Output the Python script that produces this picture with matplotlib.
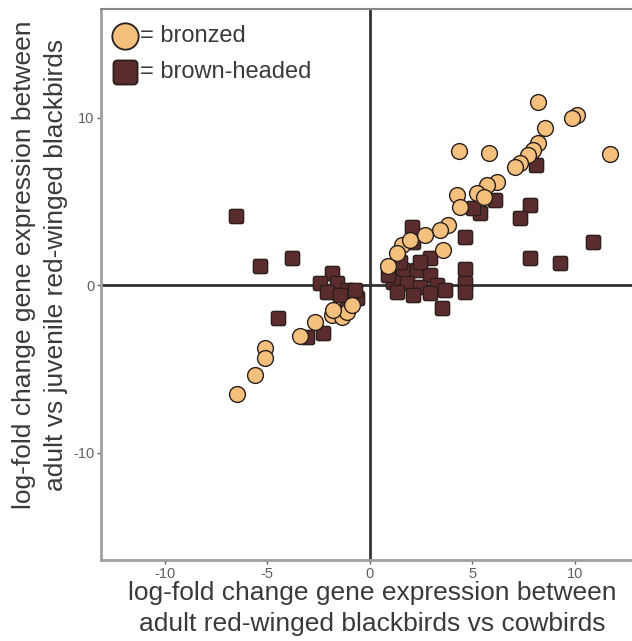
import numpy as np
import matplotlib
matplotlib.use("Agg")
import matplotlib.pyplot as plt
from matplotlib.path import Path

plt.rcParams['font.family'] = ['Liberation Sans', 'DejaVu Sans']
plt.rcParams['axes.unicode_minus'] = False

# bronzed cowbird comparisons (x: adult RWBL vs cowbird, y: adult vs juvenile RWBL)
bronzed_x = [8.20, 10.10, 9.85, 11.71, 4.34, 5.80, 8.54, 8.20, 7.95, 7.71, 7.32, 7.07,
             6.20, 5.71, 4.24, 4.39, 5.22, 5.56, 3.80, 3.41, 2.68, 3.56, 1.56, 1.32,
             0.88, 1.95,
             -2.68, -1.85, -1.37, -1.12, -0.88, -3.41, -5.12, -5.12, -5.61, -6.49, -1.80]
bronzed_y = [10.93, 10.15, 9.97, 7.82, 8.00, 7.88, 9.37, 8.48, 8.06, 7.76, 7.28, 7.04,
             6.15, 5.97, 5.37, 4.66, 5.49, 5.25, 3.58, 3.28, 2.99, 2.09, 2.39, 1.91,
             1.19, 2.69,
             -2.21, -1.79, -1.91, -1.61, -1.19, -2.99, -3.76, -4.36, -5.37, -6.45, -1.49]

# brown-headed cowbird comparisons
brown_x = [8.10, 6.10, 5.37, 5.02, 7.80, 7.32, 4.63, 10.88, 7.80, 9.27, 2.05, 4.63,
           4.63, 4.63, 3.51, 2.10, 2.93, 1.61, 2.29, 2.93, 1.12, 1.80, 2.44, 3.27,
           1.32, 2.10, 2.93, 3.66, 1.46, 2.44, 0.88,
           -6.54, -5.37, -3.80, -4.49, -1.85, -2.44, -1.61, -1.12, -2.10, -0.88,
           -0.63, -2.29, -3.07, -1.12, -0.73, -1.46]
brown_y = [7.16, 5.07, 4.30, 4.60, 4.78, 4.00, 2.87, 2.57, 1.61, 1.31, 3.46, 1.01,
           0.12, -0.42, -1.37, 2.57, 1.61, 0.90, 0.90, 0.60, 0.18, 0.12, -0.12, 0.00,
           -0.42, -0.60, -0.48, -0.30, 1.37, 1.37, 0.60,
           4.12, 1.19, 1.61, -1.97, 0.72, 0.12, 0.12, -0.30, -0.42, -1.01,
           -0.72, -2.81, -3.10, -1.37, -0.30, -0.60]

x_ticks = [-10, -5, 0, 5, 10]
y_ticks = [-10, 0, 10]
legend_labels = ["= bronzed", "= brown-headed"]
x_label = ["log-fold change gene expression between",
           "adult red-winged blackbirds vs cowbirds"]
y_label = ["log-fold change gene expression between",
           "adult vs juvenile red-winged blackbirds"]

tan = "#F4C07E"
brown = "#5B2C2E"
edge = "#2a1f1a"
text_col = "#3a3a3a"

# rounded square marker
def rounded_square(r=0.3, n=6):
    pts = []
    c = 1 - r
    for cx, cy, a0 in [(c, c, 0), (-c, c, 90), (-c, -c, 180), (c, -c, 270)]:
        for t in np.linspace(a0, a0 + 90, n):
            pts.append((cx + r * np.cos(np.radians(t)), cy + r * np.sin(np.radians(t))))
    pts.append(pts[0])
    codes = [Path.MOVETO] + [Path.LINETO] * (len(pts) - 2) + [Path.CLOSEPOLY]
    return Path(pts, codes)

rsq = rounded_square()

fig = plt.figure(figsize=(6.32, 6.41), dpi=100)
ax = fig.add_axes([0.160, 0.126, 0.84, 0.860])

ax.axhline(0, color="#333333", lw=2.0, zorder=1)
ax.axvline(0, color="#333333", lw=2.0, zorder=1)

ax.scatter(brown_x, brown_y, s=105, marker=rsq, c=brown, edgecolors=edge,
           linewidths=1.0, zorder=3)
ax.scatter(bronzed_x, bronzed_y, s=130, marker="o", c=tan, edgecolors=edge,
           linewidths=1.0, zorder=4)

ax.set_xlim(-13.1, 12.8)
ax.set_ylim(-16.4, 16.5)
ax.set_xticks(x_ticks)
ax.set_yticks(y_ticks)
ax.tick_params(axis="both", labelsize=10.5, colors="#606060", length=3, width=1,
               direction="out", pad=2)

for side in ["left", "bottom"]:
    ax.spines[side].set_color("#a0a0a0")
    ax.spines[side].set_linewidth(2.0)
ax.spines["top"].set_color("#888888")
ax.spines["top"].set_linewidth(1.5)
ax.spines["right"].set_visible(False)

# axis titles
fig.text(0.589, 1 - 593 / 641, x_label[0], fontsize=19, color=text_col,
         ha="center", va="center")
fig.text(0.589, 1 - 624 / 641, x_label[1], fontsize=19, color=text_col,
         ha="center", va="center")
fig.text(24 / 632, 1 - 265 / 641, y_label[0], fontsize=19, color=text_col,
         ha="center", va="center", rotation=90)
fig.text(56 / 632, 1 - 265 / 641, y_label[1], fontsize=19, color=text_col,
         ha="center", va="center", rotation=90)

# legend
h1 = ax.scatter([], [], s=360, marker="o", c=tan, edgecolors=edge, linewidths=1.3)
h2 = ax.scatter([], [], s=300, marker=rsq, c=brown, edgecolors=edge, linewidths=1.3)
leg = ax.legend([h1, h2], legend_labels, loc="upper left", frameon=False,
                fontsize=17, handlelength=1.0, handletextpad=0.15,
                labelspacing=0.6, borderaxespad=0.0, borderpad=0.0,
                labelcolor=text_col,
                bbox_to_anchor=(12 / 531, 1 - 16 / 551))

fig.savefig("out.png", dpi=100)
